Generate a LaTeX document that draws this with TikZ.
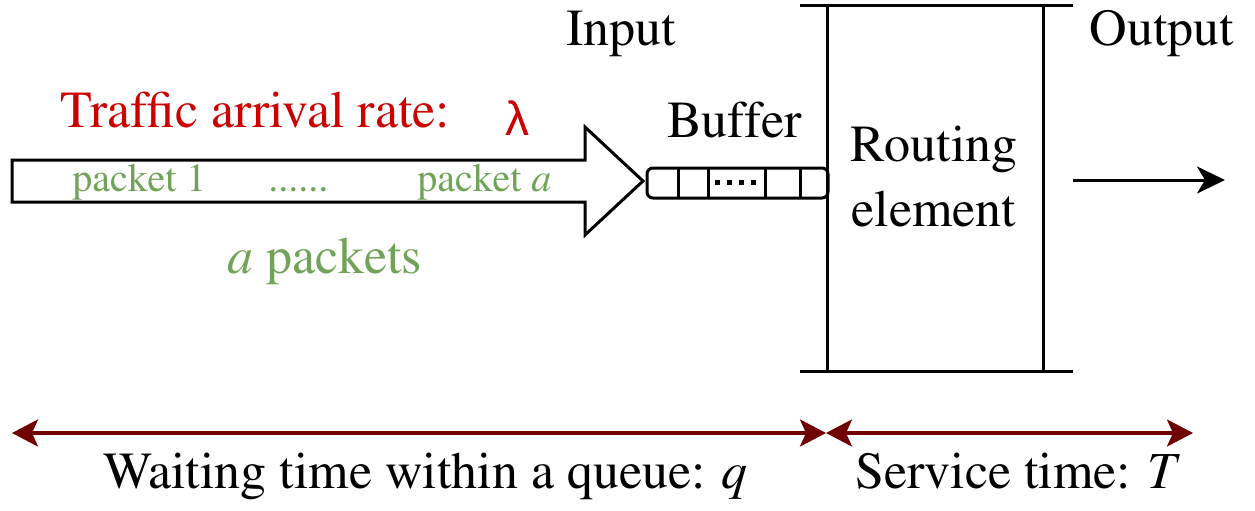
\documentclass[tikz,border=0pt]{standalone}
\usepackage{fontspec}
\newfontfamily\lambdafont{Liberation Sans}
\usepackage[T1]{fontenc}
\renewcommand{\rmdefault}{ptm}
\usetikzlibrary{positioning,arrows.meta}

\definecolor{ratered}{RGB}{204,0,0}
\definecolor{pktgreen}{RGB}{112,163,88}
\definecolor{timered}{RGB}{112,0,0}

\tikzset{
  txt/.style={font=\rmfamily\fontsize{26}{32.5}\selectfont, inner sep=0pt},
  pkt/.style={font=\rmfamily\fontsize{20}{24}\selectfont, text=pktgreen, inner sep=0pt},
  wire/.style={line width=1.5pt},
  timeline/.style={draw=timered, line width=1.6pt,
    {Stealth[length=13pt,width=13.5pt,inset=3pt]}-{Stealth[length=13pt,width=13.5pt,inset=3pt]}},
}

\begin{document}
\begin{tikzpicture}[x=0.5pt,y=-0.5pt]
  \useasboundingbox (0,0) rectangle (1255,510);

  % routing element
  \node[minimum width=107.5pt, minimum height=182.5pt, inner sep=0pt] (router) at (935.5,188.5) {};
  \draw[wire] (router.north west) -- (router.south west);
  \draw[wire] (router.north east) -- (router.south east);
  \draw[wire] ([xshift=-14pt]router.north west) -- ([xshift=15pt]router.north east);
  \draw[wire] ([xshift=-14pt]router.south west) -- ([xshift=15pt]router.south east);
  \node[txt, align=center] (rtext) at (934,177) {Routing\\element};

  \node[txt, anchor=base] (input) at (621.5,45) {Input};
  \node[txt, anchor=base] (output) at (1162,45) {Output};

  % buffer
  \node[draw, wire, rounded corners=3pt, minimum width=90.5pt, minimum height=15pt,
        inner sep=0pt] (buf) at (737.5,183) {};
  \foreach \x in {678,708,765,800}
    \draw[wire] (\x,168) -- (\x,198);
  \foreach \x in {717,729,741,753}
    \fill (\x-2.5,180) rectangle ++(5,5);
  \node[txt, anchor=base] (buftext) at (734.5,137) {Buffer};

  % incoming traffic
  \coordinate (tip) at (643,181);
  \draw[wire, line join=miter] (12,160) -- (585,160) -- (585,127) -- (tip)
    -- (585,235) -- (585,202) -- (12,202) -- cycle;
  \node[txt, anchor=base west, text=ratered] (rate) at (60,127) {Traffic arrival rate:};
  \node[anchor=base, inner sep=0pt, text=ratered, font=\lambdafont\fontsize{24}{28}\selectfont]
    (lambda) at (517,135) {λ};
  \node[pkt, anchor=base west] (p1) at (72,191) {packet 1};
  \node[pkt, anchor=base west] (pdots) at (268,191) {......};
  \node[pkt, anchor=base west] (pa) at (417,191) {packet \textit{a}};
  \node[txt, anchor=base west, text=pktgreen] (apkts) at (227,273) {\textit{a} packets};

  % output
  \coordinate (outA) at (1073,180);
  \coordinate (outB) at (1225,180);
  \draw[wire, -{Stealth[length=14pt,width=13.5pt,inset=4pt]}] (outA) -- (outB);

  % times
  \coordinate (qL) at (12,433);
  \coordinate (qR) at (826,433);
  \coordinate (tR) at (1193,433);
  \draw[timeline] (qL) -- (qR);
  \draw[timeline] (qR) -- (tR);
  \node[txt, anchor=base west] (wait) at (103,488) {Waiting time within a queue: \textit{q}};
  \node[txt, anchor=base west] (serv) at (855,488) {Service time: \textit{T}};
\end{tikzpicture}
\end{document}
